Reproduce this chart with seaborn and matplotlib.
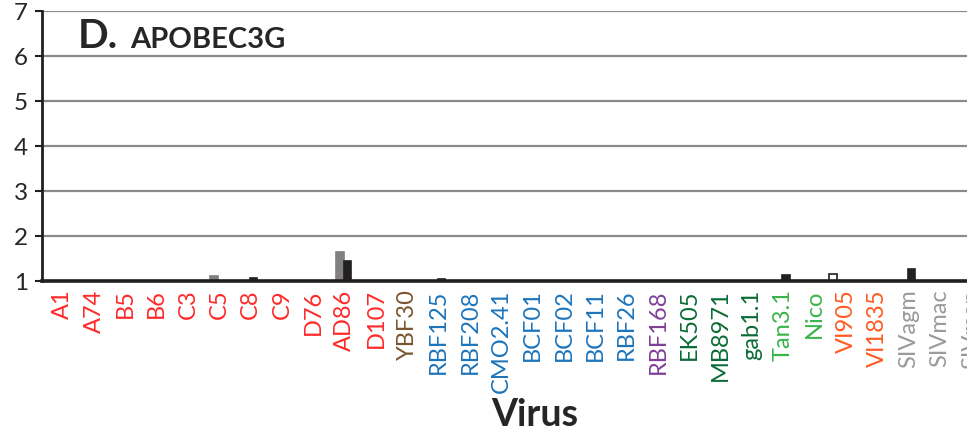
import matplotlib
matplotlib.use("Agg")
import matplotlib.pyplot as plt
import matplotlib.transforms as mtransforms
import seaborn as sns
import pandas as pd

viruses = ["A1", "A74", "B5", "B6", "C3", "C5", "C8", "C9", "D76", "AD86", "D107",
           "YBF30", "RBF125", "RBF208", "CMO2.41", "BCF01", "BCF02", "BCF11", "RBF26",
           "RBF168", "EK505", "MB8971", "gab1.1", "Tan3.1", "Nico", "VI905", "VI1835",
           "SIVagm", "SIVmac", "SIVman"]
label_colors = (["#ff2a2a"] * 11 + ["#7a5530"] + ["#1c75bc"] * 7 + ["#7f3f98"]
                + ["#0b6b35"] * 3 + ["#39b54a"] * 2 + ["#ff5a24"] * 2 + ["#9a9a9a"] * 3)

series_names = ["dose 1", "dose 2", "dose 3"]
vals_white = [1.0] * 25 + [1.15] + [1.0] * 4
vals_gray = [1.0] * 5 + [1.11] + [1.0] * 3 + [1.65] + [1.0] * 20
vals_black = ([1.0] * 6 + [1.07] + [1.0] * 2 + [1.45] + [1.0] * 2 + [1.05] + [1.0] * 10
              + [1.13] + [1.0] * 3 + [1.27] + [1.0] * 2)

df = pd.DataFrame({
    "Virus": viruses * 3,
    "value": vals_white + vals_gray + vals_black,
    "series": [series_names[0]] * 30 + [series_names[1]] * 30 + [series_names[2]] * 30,
})

sns.set_style("white")
plt.rcParams["font.family"] = ["Lato", "DejaVu Sans"]

W, H = 967, 444
fig = plt.figure(figsize=(W / 100, H / 100), dpi=100)
ax = fig.add_axes([42 / W, 163 / H, 940 / W, 270 / H])

sns.barplot(data=df, x="Virus", y="value", hue="series", order=viruses,
            hue_order=series_names, palette=["#ffffff", "#808080", "#231f20"],
            width=0.74, dodge=True, errorbar=None, legend=False, ax=ax,
            linewidth=1.2, edgecolor="#231f20", zorder=3)
for cont, ec in zip(ax.containers, ["#231f20", "#808080", "#231f20"]):
    for p in cont:
        p.set_edgecolor(ec)

ax.set_ylim(1, 7)
ax.set_xlim(-0.5, 29.5)
ax.set_yticks(range(1, 8))
ax.yaxis.grid(True, color="#8a8a8a", lw=1.6, zorder=0)
ax.set_axisbelow(True)
for s in ["top", "right"]:
    ax.spines[s].set_visible(False)
ax.spines["bottom"].set_color("#231f20")
ax.spines["bottom"].set_linewidth(2.6)
ax.spines["bottom"].set_zorder(5)
ax.spines["left"].set_color("#231f20")
ax.spines["left"].set_linewidth(2.0)

ax.tick_params(axis="y", labelsize=17.5, length=5, width=1.5, color="#231f20", pad=5, left=True)
ax.tick_params(axis="x", labelsize=17, length=0, pad=6)
ax.set_xticks(range(len(viruses)))
ax.set_xticklabels(viruses, rotation=90)
offset = mtransforms.ScaledTranslation(5 / 100, 0, fig.dpi_scale_trans)
for t, c in zip(ax.get_xticklabels(), label_colors):
    t.set_color(c)
    t.set_transform(t.get_transform() + offset)
ax.set_xlabel("")
ax.set_ylabel("")

ax.text((78 - 42) / 940, 1 - 37 / 270, "D.", transform=ax.transAxes, fontsize=29,
        fontweight="bold", ha="left", va="baseline")
ax.text((130 - 42) / 940, 1 - 37 / 270, "APOBEC3G", transform=ax.transAxes, fontsize=21,
        fontweight="bold", ha="left", va="baseline")

fig.text(535 / W, 1 - 415 / H, "Virus", fontsize=27, fontweight="bold",
         ha="center", va="center")

fig.savefig("out.png", dpi=100)
